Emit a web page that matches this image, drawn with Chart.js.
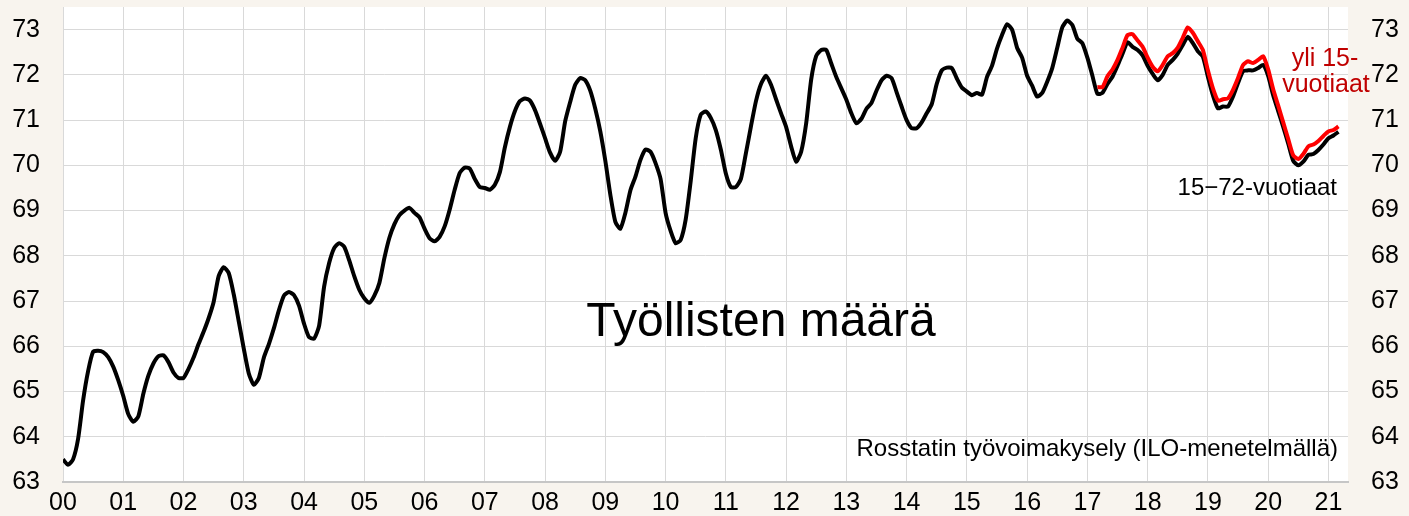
<!DOCTYPE html>
<html>
<head>
<meta charset="utf-8">
<script src="https://cdn.jsdelivr.net/npm/chart.js@4/dist/chart.umd.min.js"></script>
<style>
  html, body { margin: 0; padding: 0; background: #f8f4ee; }
  #wrap { width: 1409px; height: 516px; position: relative; }
</style>
</head>
<body>
<div id="wrap"><canvas id="employed" width="1409" height="516"></canvas></div>
<script>
  'use strict';

  // year tick labels, one per January from 2000
  var yearLabels = ['00', '01', '02', '03', '04', '05', '06', '07', '08', '09', '10',
    '11', '12', '13', '14', '15', '16', '17', '18', '19', '20', '21'];
  var yTicks = [63, 64, 65, 66, 67, 68, 69, 70, 71, 72, 73];

  // employment rate, 15-72 year olds, %, monthly from Jan 2000
  var age15to72 = [
    63.5, 63.38, 63.5, 63.95, 64.8, 65.45, 65.88, 65.9, 65.87, 65.76, 65.55, 65.25,
    64.9, 64.5, 64.33, 64.45, 64.95, 65.35, 65.62, 65.78, 65.8, 65.65, 65.42, 65.3,
    65.3, 65.5, 65.75, 66.05, 66.32, 66.62, 66.98, 67.55, 67.75, 67.62, 67.15, 66.55,
    65.95, 65.4, 65.15, 65.3, 65.75, 66.05, 66.4, 66.8, 67.12, 67.2, 67.13, 66.9,
    66.5, 66.2, 66.17, 66.45, 67.32, 67.84, 68.17, 68.28, 68.2, 67.9, 67.55, 67.25,
    67.06, 66.96, 67.12, 67.4, 67.95, 68.4, 68.7, 68.9, 69.0, 69.06, 68.95, 68.85,
    68.6, 68.39, 68.32, 68.42, 68.65, 69.02, 69.46, 69.83, 69.95, 69.93, 69.7, 69.52,
    69.5, 69.46, 69.57, 69.85, 70.4, 70.85, 71.2, 71.42, 71.48, 71.43, 71.22, 70.92,
    70.6, 70.28, 70.1, 70.3, 70.97, 71.4, 71.78, 71.93, 71.88, 71.65, 71.25, 70.75,
    70.1, 69.35, 68.75, 68.6, 68.95, 69.45, 69.75, 70.12, 70.35, 70.3, 70.05, 69.7,
    68.95, 68.55, 68.28, 68.35, 68.8, 69.65, 70.6, 71.12, 71.19, 71.05, 70.78, 70.35,
    69.82, 69.52, 69.52, 69.7, 70.27, 70.86, 71.42, 71.8, 71.98, 71.78, 71.46, 71.15,
    70.85, 70.42, 70.08, 70.3, 70.93, 71.9, 72.42, 72.55, 72.55, 72.25, 71.95, 71.7,
    71.45, 71.15, 70.93, 71.03, 71.25, 71.38, 71.65, 71.88, 71.98, 71.93, 71.62, 71.3,
    71.0, 70.82, 70.82, 70.95, 71.15, 71.35, 71.8, 72.1, 72.16, 72.15, 71.92, 71.72,
    71.63, 71.55, 71.6, 71.56, 71.95, 72.2, 72.58, 72.88, 73.12, 73.0, 72.6, 72.38,
    71.98, 71.76, 71.52, 71.6, 71.85, 72.15, 72.6, 73.05, 73.2, 73.1, 72.8, 72.7,
    72.38, 71.98, 71.58, 71.6, 71.8, 71.96, 72.2, 72.47, 72.72, 72.62, 72.55, 72.43,
    72.2, 72.02, 71.88, 72.0, 72.22, 72.33, 72.47, 72.66, 72.84, 72.7, 72.52, 72.4,
    71.96, 71.55, 71.26, 71.3, 71.3, 71.52, 71.82, 72.08, 72.1, 72.1, 72.15, 72.22,
    71.98, 71.55, 71.2, 70.85, 70.48, 70.1, 70.0, 70.08, 70.23, 70.25, 70.34, 70.46,
    70.6, 70.66, 70.74
  ];

  // over 15 year olds, monthly from Mar 2017
  var over15Start = 206;
  var over15 = [
    71.73, 71.73, 71.97, 72.12, 72.33, 72.6, 72.88, 72.9, 72.76, 72.62,
    72.38, 72.18, 72.08, 72.22, 72.41, 72.48, 72.6, 72.82, 73.05, 72.93, 72.74, 72.55,
    72.1, 71.7, 71.43, 71.46, 71.48, 71.67, 71.93, 72.22, 72.3, 72.26, 72.33, 72.41,
    72.12, 71.68, 71.32, 70.95, 70.58, 70.22, 70.14, 70.25, 70.42, 70.46, 70.54, 70.65,
    70.75, 70.78, 70.86
  ];

  var FONT = "'Liberation Sans', Arial, sans-serif";
  var NARROW = "'Liberation Sans Narrow', 'Arial Narrow', 'Liberation Sans', sans-serif";

  var plotBackground = {
    id: 'plotBackground',
    beforeDraw: function (chart) {
      var ctx = chart.ctx, a = chart.chartArea;
      ctx.save();
      ctx.fillStyle = '#f8f4ee';
      ctx.fillRect(0, 0, chart.width, chart.height);
      ctx.fillStyle = '#ffffff';
      ctx.fillRect(a.left, a.top, a.right - a.left, a.bottom - a.top);
      ctx.restore();
    }
  };

  var annotations = {
    id: 'annotations',
    afterDraw: function (chart) {
      var ctx = chart.ctx;
      ctx.save();
      ctx.textBaseline = 'alphabetic';
      ctx.fillStyle = '#000000';
      ctx.font = '48px ' + FONT;
      ctx.textAlign = 'center';
      ctx.fillText('Työllisten määrä', 761, 336);

      ctx.font = '24px ' + FONT;
      ctx.textAlign = 'right';
      ctx.fillText('Rosstatin työvoimakysely (ILO-menetelmällä)', 1338, 456);
      ctx.fillText('15\u221272-vuotiaat', 1337, 195);

      ctx.fillStyle = '#c00000';
      ctx.font = '25px ' + FONT;
      ctx.textAlign = 'center';
      ctx.fillText('yli 15-', 1325, 66);
      ctx.fillText('vuotiaat', 1326, 92);
      ctx.restore();
    }
  };

  function yAxis(position) {
    return {
      type: 'linear',
      position: position,
      min: 63,
      max: 73.5,
      afterBuildTicks: function (axis) {
        axis.ticks = yTicks.map(function (v) { return { value: v }; });
      },
      afterFit: function (axis) {
        axis.width = position === 'left' ? 63 : 61;
        axis.paddingTop = 0;
        axis.paddingBottom = 0;
      },
      grid: {
        display: position === 'left',
        color: '#d9d9d9',
        lineWidth: 1,
        drawTicks: false
      },
      border: { display: false },
      ticks: {
        color: '#000000',
        padding: 23,
        autoSkip: false,
        font: { family: FONT, size: 25 }
      }
    };
  }

  var ctx = document.getElementById('employed').getContext('2d');
  window.employedChart = new Chart(ctx, {
    type: 'line',
    data: {
      datasets: [
        {
          label: 'yli 15-vuotiaat',
          data: over15.map(function (v, i) { return { x: over15Start + i, y: v }; }),
          borderColor: '#ff0000',
          borderWidth: 4,
          pointRadius: 0,
          tension: 0.2,
          order: 0,
          yAxisID: 'y'
        },
        {
          label: '15-72-vuotiaat',
          data: age15to72.map(function (v, i) { return { x: i, y: v }; }),
          borderColor: '#000000',
          borderWidth: 4,
          pointRadius: 0,
          tension: 0.2,
          order: 1,
          yAxisID: 'y'
        }
      ]
    },
    options: {
      responsive: false,
      animation: false,
      layout: { padding: { top: 7, right: 0, bottom: 0, left: 0 } },
      plugins: {
        legend: { display: false },
        tooltip: { enabled: false }
      },
      scales: {
        x: {
          type: 'linear',
          min: 0,
          max: 255.9,
          afterBuildTicks: function (axis) {
            axis.ticks = yearLabels.map(function (_, k) { return { value: k * 12 }; });
          },
          afterFit: function (axis) {
            axis.height = 34;
            axis.paddingLeft = 0;
            axis.paddingRight = 0;
          },
          grid: { color: '#d9d9d9', lineWidth: 1, drawTicks: false },
          border: { display: true, color: '#c6c6c6', width: 2 },
          ticks: {
            color: '#000000',
            padding: 6,
            maxRotation: 0,
            autoSkip: false,
            font: { family: NARROW, size: 25 },
            callback: function (value, index) { return yearLabels[index]; }
          }
        },
        y: yAxis('left'),
        y2: yAxis('right')
      }
    },
    plugins: [plotBackground, annotations]
  });
</script>
</body>
</html>
